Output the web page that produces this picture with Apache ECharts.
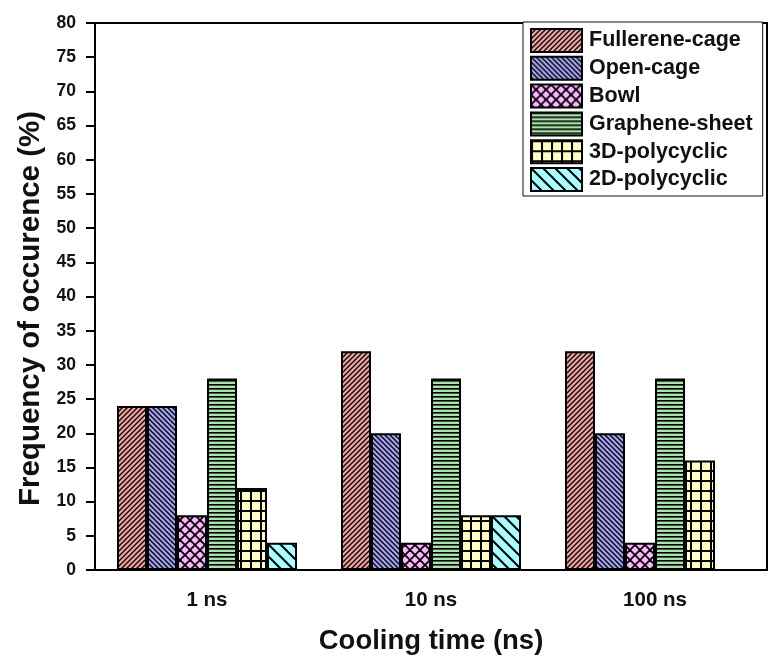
<!DOCTYPE html>
<html>
<head>
<meta charset="utf-8">
<script src="https://cdn.jsdelivr.net/npm/echarts@6/dist/echarts.min.js"></script>
<style>
html,body{margin:0;padding:0;background:#fff;}
#chart{width:768px;height:656px;}
</style>
</head>
<body>
<div id="chart"></div>
<script>
// ---- data ----
const categories = ['1 ns', '10 ns', '100 ns'];
const seriesNames = ['Fullerene-cage', 'Open-cage', 'Bowl', 'Graphene-sheet', '3D-polycyclic', '2D-polycyclic'];
const fullereneCage = [24, 32, 32];
const openCage = [24, 20, 20];
const bowl = [8, 4, 4];
const grapheneSheet = [28, 28, 28];
const polycyclic3D = [12, 8, 16];
const polycyclic2D = [4, 8, '-'];
const yTicks = {min: 0, max: 80, interval: 5};
const xTitle = 'Cooling time (ns)';
const yTitle = 'Frequency of occurence (%)';

// ---- hatch patterns ----
function makeTile(size, bg, draw) {
  const c = document.createElement('canvas');
  c.width = size; c.height = size;
  const ctx = c.getContext('2d');
  ctx.fillStyle = bg;
  ctx.fillRect(0, 0, size, size);
  ctx.strokeStyle = '#000';
  ctx.fillStyle = '#000';
  draw(ctx, size);
  return {image: c, repeat: 'repeat'};
}
function diagForward(ctx, s, lw) { // "/"
  ctx.lineWidth = lw;
  for (let k = -1; k <= 1; k++) {
    ctx.beginPath();
    ctx.moveTo(-s + k * s, 2 * s);
    ctx.lineTo(2 * s + k * s, -s);
    ctx.stroke();
  }
}
function diagBack(ctx, s, lw) { // "\"
  ctx.lineWidth = lw;
  for (let k = -1; k <= 1; k++) {
    ctx.beginPath();
    ctx.moveTo(-s + k * s, -s);
    ctx.lineTo(2 * s + k * s, 2 * s);
    ctx.stroke();
  }
}
const patterns = [
  makeTile(5, '#f4a4a0', (ctx, s) => diagForward(ctx, s, 1.3)),
  makeTile(5, '#a4a4f4', (ctx, s) => diagBack(ctx, s, 1.3)),
  makeTile(10, '#ffb4ff', (ctx, s) => { diagForward(ctx, s, 1.8); diagBack(ctx, s, 1.8); }),
  makeTile(4, '#a8e4a8', (ctx, s) => { ctx.fillRect(0, 0, s, 1.6); }),
  makeTile(10, '#ffffc0', (ctx, s) => { ctx.fillRect(0, 0, 2, s); ctx.fillRect(0, 0, s, 2); }),
  makeTile(12, '#a8ffff', (ctx, s) => diagBack(ctx, s, 2))
];
const seriesData = [fullereneCage, openCage, bowl, grapheneSheet, polycyclic3D, polycyclic2D];

const FONT = 'Liberation Sans, Arial, sans-serif';
const chart = echarts.init(document.getElementById('chart'), null, {renderer: 'canvas'});
const option = {
  backgroundColor: '#fff',
  animation: false,
  grid: {
    left: 95, right: 1, top: 23, bottom: 86,
    outerBoundsMode: 'none',
    containLabel: false,
    show: true, borderColor: '#000', borderWidth: 2, backgroundColor: 'transparent'
  },
  legend: {
    orient: 'vertical',
    left: 523, top: 22,
    itemWidth: 51, itemHeight: 23, itemGap: 2.8,
    padding: [6, 10, 4, 7],
    borderColor: '#111', borderWidth: 1,
    backgroundColor: '#fff',
    icon: 'rect',
    textStyle: {fontFamily: FONT, fontWeight: 'bold', fontSize: 21.5, lineHeight: 23, color: '#111', padding: [0, 0, 0, 2]},
    data: seriesNames
  },
  xAxis: {
    type: 'category',
    data: categories,
    name: xTitle,
    nameLocation: 'middle',
    nameGap: 57,
    nameTextStyle: {fontFamily: FONT, fontWeight: 'bold', fontSize: 27.5, color: '#111'},
    axisLine: {lineStyle: {color: '#000', width: 2}},
    axisTick: {alignWithLabel: true, length: 12, lineStyle: {color: '#000', width: 2}},
    axisLabel: {fontFamily: FONT, fontWeight: 'bold', fontSize: 20.5, color: '#111', margin: 20},
    splitLine: {show: false}
  },
  yAxis: {
    type: 'value',
    min: yTicks.min, max: yTicks.max, interval: yTicks.interval,
    name: yTitle,
    nameLocation: 'middle',
    nameGap: 47,
    nameTextStyle: {fontFamily: FONT, fontWeight: 'bold', fontSize: 29.5, color: '#111', padding: [0, 24, 0, 0]},
    axisLine: {show: true, lineStyle: {color: '#000', width: 2}},
    axisTick: {show: true, length: 9, lineStyle: {color: '#000', width: 2}},
    axisLabel: {fontFamily: FONT, fontWeight: 'bold', fontSize: 17.5, color: '#111', margin: 19},
    splitLine: {show: false}
  },
  series: seriesNames.map((name, i) => ({
    name: name,
    type: 'bar',
    data: seriesData[i],
    barWidth: 30,
    barGap: '0%',
    itemStyle: {color: patterns[i], borderColor: '#000', borderWidth: 2},
    emphasis: {disabled: true}
  }))
};
chart.setOption(option);
</script>
</body>
</html>
